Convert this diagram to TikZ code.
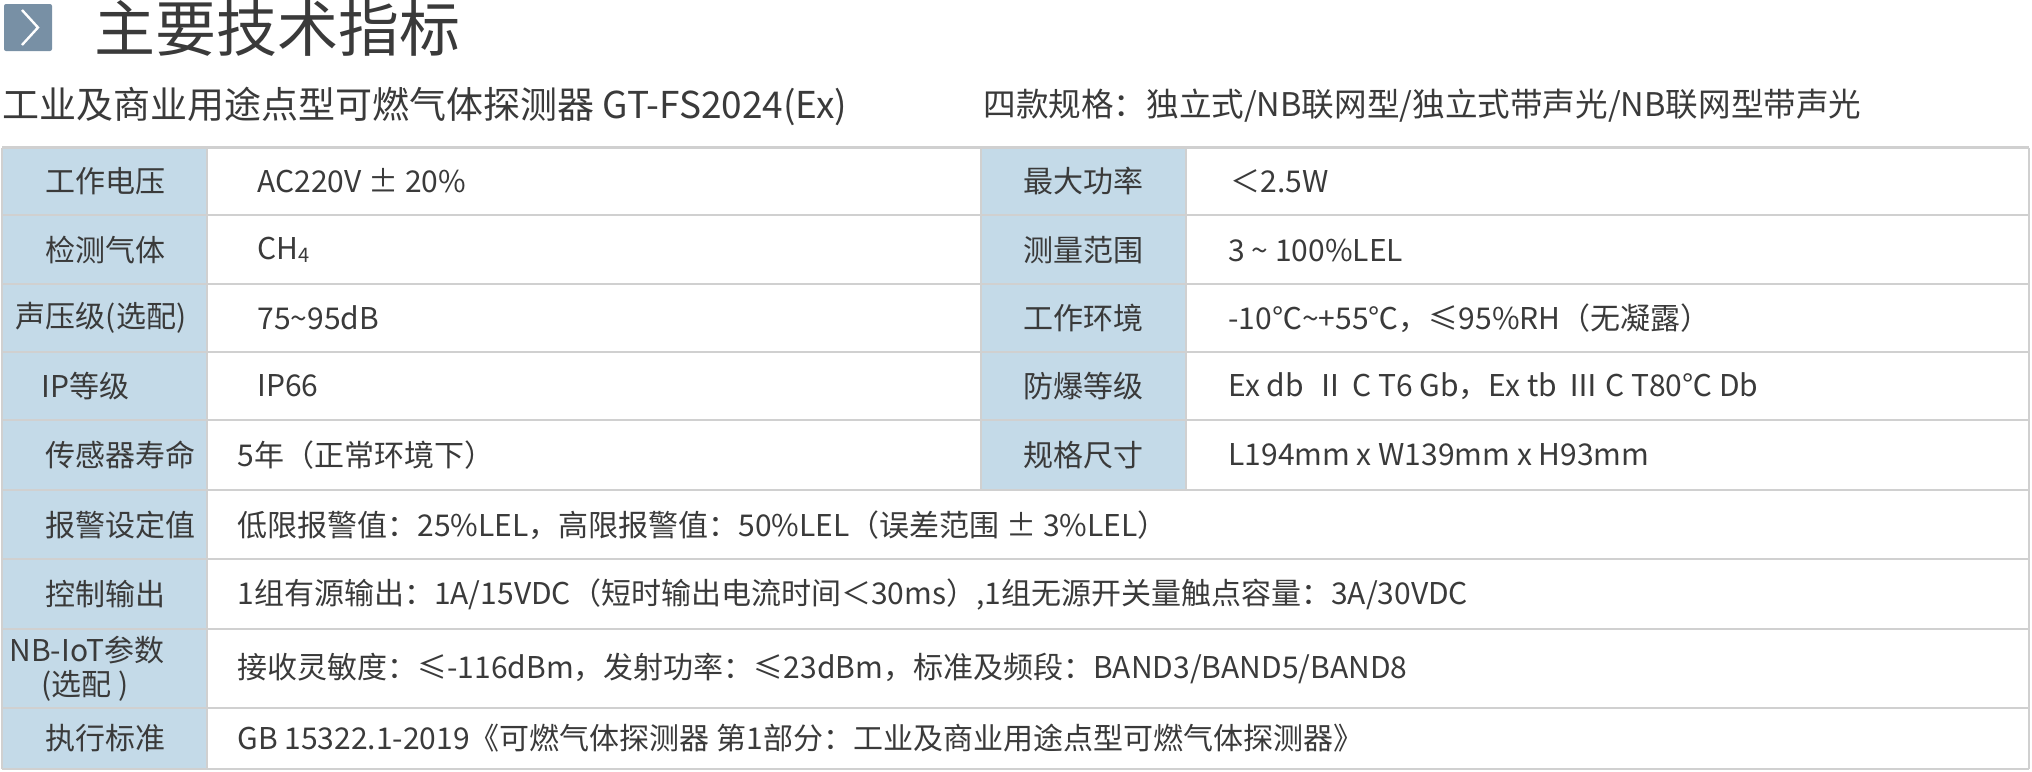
\documentclass[tikz,border=0pt]{standalone}
\usepackage{fontspec}
\setmainfont{Noto Sans CJK SC}
\definecolor{txt}{HTML}{3A3A3A}
\definecolor{lab}{HTML}{C4DAE8}
\definecolor{grid}{HTML}{D0D0D0}
\definecolor{icon}{HTML}{7890A5}
\begin{document}
\begin{tikzpicture}[x=0.5pt,y=-0.5pt,
  cell/.style={font=\fontsize{15}{18}\selectfont,text=txt,inner sep=0pt},
  gl/.style={draw=grid,line width=1.3pt}]
\useasboundingbox (0,0) rectangle (2032,771);
% icon
\fill[icon,rounded corners=1pt] (4,4) rectangle (52,51);
\draw[white,line width=1.2pt] (22,10) -- (38,27.5) -- (22,45);
\node[cell,anchor=west,font=\fontsize{30.5}{34}\selectfont] (title) at (94,28) {主要技术指标};
\node[cell,anchor=west,font=\fontsize{18.5}{22}\selectfont] (sub) at (2,106) {工业及商业用途点型可燃气体探测器 GT-FS2024(Ex)};
\node[cell,anchor=west,font=\fontsize{16.3}{20}\selectfont] (sub2) at (983,106) {四款规格：独立式/NB联网型/独立式带声光/NB联网型带声光};
% fills
\fill[lab] (2,147.5) rectangle (207,769);
\fill[lab] (981,147.5) rectangle (1186,490);
% grid
\foreach \y in {147.5,215,284,352,420,490,559,629,708,769} \draw[gl] (2,\y) -- (2029,\y);
\draw[gl] (2,147.5) -- (2,769);
\draw[gl] (2029,147.5) -- (2029,769);
\draw[gl] (207,147.5) -- (207,769);
\draw[gl] (981,147.5) -- (981,490);
\draw[gl] (1186,147.5) -- (1186,490);
% left labels
\node[cell] (l1) at (105,181) {工作电压};
\node[cell] (l2) at (105,250) {检测气体};
\node[cell] (l3) at (101,318) {声压级(选配)};
\node[cell,anchor=west] (l4) at (41,386) {IP等级};
\node[cell] (l5) at (120,455) {传感器寿命};
\node[cell] (l6) at (120,525) {报警设定值};
\node[cell] (l7) at (105,594) {控制输出};
\node[cell,anchor=west] (l8a) at (9,650) {NB-IoT参数};
\node[cell,anchor=west] (l8b) at (41,686) {(选配 )};
\node[cell] (l9) at (105,738) {执行标准};
% right labels
\node[cell] (r1) at (1083,181) {最大功率};
\node[cell] (r2) at (1083,250) {测量范围};
\node[cell] (r3) at (1083,318) {工作环境};
\node[cell] (r4) at (1083,386) {防爆等级};
\node[cell] (r5) at (1083,455) {规格尺寸};
% left values
\node[cell,anchor=west] (v1) at (257,181) {AC220V ± 20\%};
\node[cell,anchor=west] (v2) at (257,250) {CH\raisebox{-0.15ex}{\fontsize{10}{10}\selectfont 4}};
\node[cell,anchor=west] (v3) at (257,318) {75\textasciitilde 95dB};
\node[cell,anchor=west] (v4) at (257,386) {IP66};
\node[cell,anchor=west] (v5) at (237,455) {5年（正常环境下）};
\node[cell,anchor=west] (v6) at (237,525) {低限报警值：25\%LEL，高限报警值：50\%LEL（误差范围 ± 3\%LEL）};
\node[cell,anchor=west] (v7) at (237,594) {1组有源输出：1A/15VDC（短时输出电流时间＜30ms）,1组无源开关量触点容量：3A/30VDC};
\node[cell,anchor=west] (v8) at (237,668) {接收灵敏度：≤-116dBm，发射功率：≤23dBm，标准及频段：BAND3/BAND5/BAND8};
\node[cell,anchor=west] (v9) at (237,738) {GB 15322.1-2019《可燃气体探测器 第1部分：工业及商业用途点型可燃气体探测器》};
% right values
\node[cell,anchor=west] (w1) at (1230,181) {＜2.5W};
\node[cell,anchor=west] (w2) at (1228,250) {3 \textasciitilde\ 100\%LEL};
\node[cell,anchor=west] (w3) at (1228,318) {-10℃\textasciitilde+55℃，≤95\%RH（无凝露）};
\node[cell,anchor=west] (w4) at (1228,386) {Ex db \,Ⅱ C T6 Gb，Ex tb \,Ⅲ C T80℃ Db};
\node[cell,anchor=west] (w5) at (1228,455) {L194mm x W139mm x H93mm};
\end{tikzpicture}
\end{document}
